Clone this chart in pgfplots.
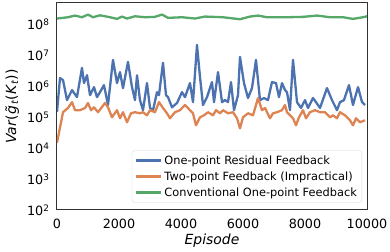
\documentclass[border=0pt]{standalone}
\usepackage{fontspec}
\setmainfont{DejaVu Sans}
\usepackage{pgfplots}
\pgfplotsset{compat=1.18}
\definecolor{sbblue}{HTML}{4C72B0}
\definecolor{sborange}{HTML}{DD8452}
\definecolor{sbgreen}{HTML}{55A868}
\begin{document}
\begin{tikzpicture}
\useasboundingbox (-57bp,-42bp) rectangle (333bp,210bp);
\begin{axis}[
 at={(0,0)}, anchor=south west,
 scale only axis, width=310bp, height=207bp,
 xmin=0, xmax=10000, ymin=100, ymax=5e8, ymode=log,
 xtick={0,2000,4000,6000,8000,10000},
 ytick={1e2,1e3,1e4,1e5,1e6,1e7,1e8},
 yticklabels={10\textsuperscript{2},10\textsuperscript{3},10\textsuperscript{4},10\textsuperscript{5},10\textsuperscript{6},10\textsuperscript{7},10\textsuperscript{8}},
 tick style={draw=none},
 axis line style={black!80, line width=1bp},
 /pgf/number format/assume math mode=true,
 /pgf/number format/1000 sep={},
 scaled x ticks=false,
 ticklabel style={font=\fontsize{12.8}{13}\selectfont},
 yticklabel style={xshift=-4bp},
 xticklabel style={yshift=-6bp},
 xlabel={\textit{Episode}},
 ylabel={\textit{Var}(\textit{\~g}\textsubscript{\textit{t}}(\textit{K}\textsubscript{\textit{t}}))},
 label style={font=\fontsize{14}{15}\selectfont},
 xlabel style={at={(axis description cs:0.5,0)}, anchor=center, yshift=-31bp},
 ylabel style={at={(axis description cs:-0.145,0.5)}, anchor=center},
 legend style={at={(1,0)}, anchor=south east, xshift=-5bp, yshift=7bp, draw=black!15, rounded corners=3bp, font=\fontsize{11.4}{13}\selectfont, row sep=2bp, inner sep=3bp},
 legend cell align=left,
 legend image code/.code={\draw[#1, line width=2.5bp] (0bp,0bp) -- (25bp,0bp);},
 every axis plot/.append style={line width=2.3bp, line join=round}
]
\addplot[sbblue] coordinates {
(0,1.5e5)(97,1.87e6)(194,1.6e6)(323,3.6e5)(484,7.6e5)(645,4.5e5)(806,4.0e6)(871,1.28e6)(968,2.3e6)
(1065,5.2e5)(1194,9.5e5)(1290,4.5e5)(1387,6.5e5)(1516,1.1e6)(1645,2.5e5)(1806,7.2e6)(1936,1.28e6)
(2032,2.9e6)(2129,8.8e5)(2290,6.2e6)(2419,9.5e5)(2516,3.6e5)(2581,2.3e6)(2677,3.6e5)(2774,1.7e5)
(2903,1.28e6)(3000,2.0e5)(3097,1.7e5)(3226,6.5e5)(3290,5.2e5)(3419,5.8e6)(3516,5.2e5)(3581,4.5e5)
(3710,2.1e5)(3871,2.9e5)(4032,6.5e5)(4129,4.5e5)(4290,1.28e6)(4387,3.1e5)(4516,2.2e7)(4613,2.0e6)
(4710,2.5e5)(4839,4.5e5)(5000,1.38e6)(5065,3.1e5)(5194,2.9e6)(5323,3.1e5)(5419,3.6e5)(5516,3.1e5)
(5613,1.38e6)(5710,1.7e5)(5839,5.2e5)(5903,9.0e6)(6032,1.28e6)(6161,4.2e5)(6290,8.8e5)(6419,7.2e6)
(6548,3.6e5)(6677,4.2e5)(6806,3.6e5)(6935,1.38e6)(7064,1.28e6)(7161,4.5e5)(7258,1.28e6)(7355,7.6e5)
(7419,6.5e5)(7516,1.7e5)(7613,7.2e6)(7742,3.1e5)(7871,2.0e5)(8000,3.6e5)(8097,2.0e5)(8258,4.2e5)
(8355,3.1e5)(8484,2.0e5)(8710,8.8e5)(8871,3.6e5)(9032,1.7e5)(9129,3.1e5)(9258,3.6e5)(9419,1.1e6)
(9548,2.5e5)(9710,9.5e5)(9839,3.1e5)(9936,2.5e5)
};
\addlegendentry{One-point Residual Feedback}
\addplot[sborange] coordinates {
(0,1.5e4)(194,1.46e5)(355,2.0e5)(484,3.1e5)(581,1.7e5)(742,1.7e5)(903,2.0e5)(1000,2.9e5)(1097,1.7e5)
(1194,2.1e5)(1323,1.46e5)(1548,2.9e5)(1645,2.1e5)(1774,1.0e5)(1936,1.7e5)(2032,9.3e4)(2129,1.46e5)
(2258,6.9e4)(2387,1.35e5)(2516,1.46e5)(2677,1.35e5)(2774,1.46e5)(2903,1.16e5)(3000,1.7e5)(3161,1.46e5)
(3290,3.1e5)(3419,2.0e5)(3548,1.35e5)(3645,9.3e4)(3806,1.46e5)(3968,1.7e5)(4129,2.5e5)(4290,1.7e5)
(4387,1.35e5)(4484,5.5e4)(4613,1.0e5)(4742,1.16e5)(4871,1.46e5)(5032,1.16e5)(5129,1.7e5)(5258,1.35e5)
(5355,1.7e5)(5516,1.35e5)(5677,1.46e5)(5806,9.3e4)(5903,4.4e4)(6000,1.0e5)(6161,1.35e5)(6323,1.16e5)
(6484,4.2e5)(6613,1.7e5)(6710,2.0e5)(6871,9.3e4)(6968,1.35e5)(7097,1.46e5)(7258,1.7e5)(7355,2.5e5)
(7419,1.46e5)(7516,1.16e5)(7613,9.3e4)(7710,5.5e4)(7806,1.0e5)(7935,1.7e5)(8032,9.3e4)(8161,1.46e5)
(8323,1.7e5)(8484,1.46e5)(8645,1.46e5)(8806,1.0e5)(8903,1.16e5)(9032,9.3e4)(9129,1.46e5)(9290,1.16e5)
(9452,8.0e4)(9548,5.5e4)(9645,9.3e4)(9774,6.9e4)(9936,8.0e4)
};
\addlegendentry{Two-point Feedback (Impractical)}
\addplot[sbgreen] coordinates {
(0,1.57e8)(355,1.73e8)(581,1.96e8)(806,1.73e8)(1000,2.11e8)(1161,1.73e8)(1387,2.0e8)(1710,1.73e8)
(1936,1.53e8)(2097,1.82e8)(2258,1.57e8)(2516,1.86e8)(2839,1.73e8)(3161,1.78e8)(3387,2.11e8)(3581,1.65e8)
(4032,1.73e8)(4452,1.57e8)(4774,1.82e8)(5355,1.73e8)(5903,1.49e8)(6226,1.82e8)(6484,1.96e8)(6774,1.73e8)
(7419,1.73e8)(7935,1.78e8)(8387,1.96e8)(8806,1.73e8)(9226,1.73e8)(9548,1.53e8)(9871,1.73e8)(10000,1.86e8)
};
\addlegendentry{Conventional One-point Feedback}
\end{axis}
\end{tikzpicture}
\end{document}
